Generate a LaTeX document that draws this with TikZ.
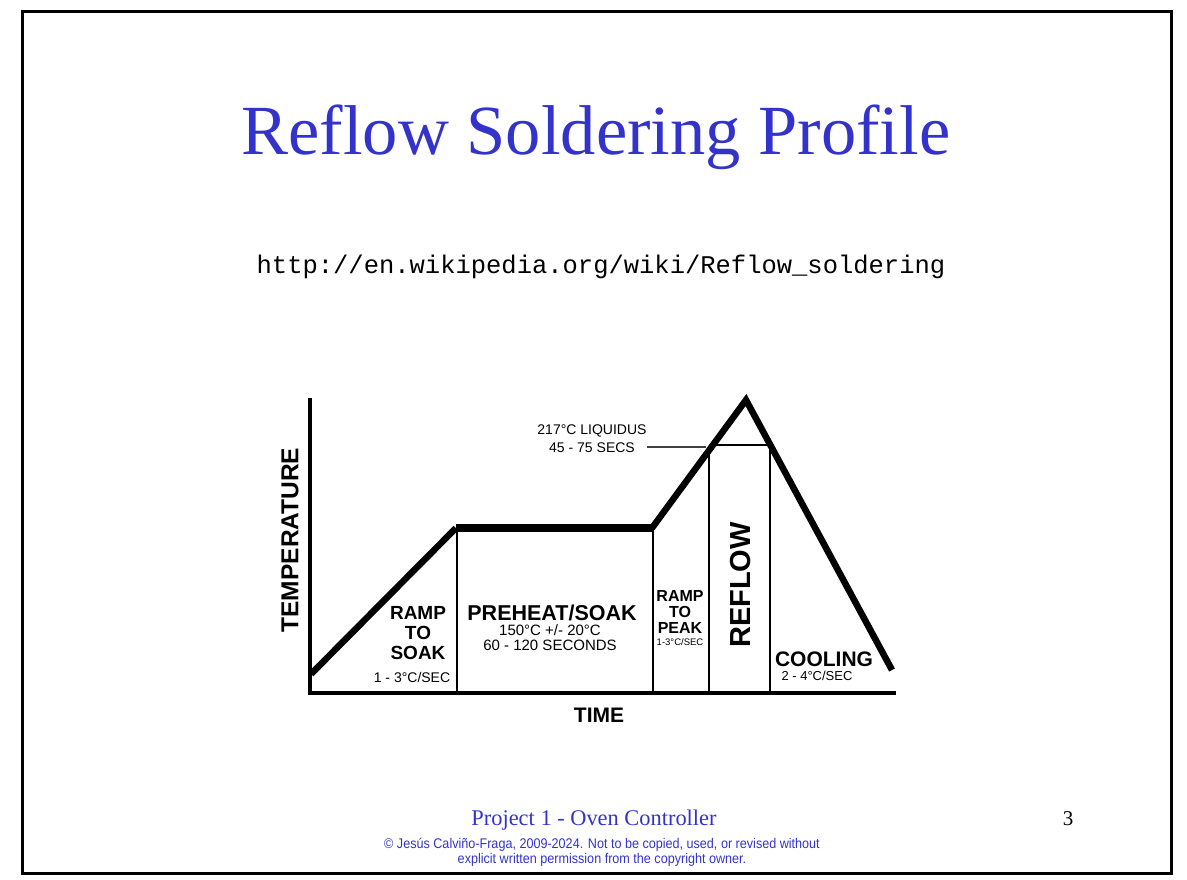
\documentclass[tikz,border=0pt]{standalone}
\usepackage{fontspec}
\setmainfont{Liberation Serif}
\newfontfamily\arial{Liberation Sans}
\newfontfamily\arialnarrow[FakeStretch=0.9]{Liberation Sans}
\newfontfamily\cour{Liberation Mono}
\definecolor{slideblue}{RGB}{51,51,204}
\newcommand{\fsz}[1]{\fontsize{#1}{#1}\selectfont}
\begin{document}
\begin{tikzpicture}[x=1pt,y=-1pt,
  txt/.style={inner sep=0pt, align=center},
  bigbold/.style={txt, font=\arial\bfseries\fsz{#1}},
  small/.style={txt, font=\arial\fsz{#1}},
  axisline/.style={line width=4pt, line cap=rect},
  curve/.style={line width=6.5pt, line join=miter},
  divider/.style={line width=2.5pt},
]
\useasboundingbox (0,0) rectangle (1187,880);
% slide frame
\draw[line width=3pt] (22,12) rectangle (1171,873);

% headings
\node[txt, anchor=base, text=slideblue, font=\fsz{70.5}] (title) at (596,155) {Reflow Soldering Profile};
\node[txt, anchor=base, font=\cour\fsz{25.5}] (url) at (601,273) {http://en.wikipedia.org/wiki/Reflow\_soldering};

% profile key points
\coordinate (origin) at (310,693);
\coordinate (ytop) at (310,400);
\coordinate (xend) at (894,693);
\coordinate (start) at (311,674);
\coordinate (soakA) at (456,528);
\coordinate (soakB) at (652,528);
\coordinate (peak) at (746,400);
\coordinate (cool) at (892,670);
\coordinate (liqL) at (713,445);
\coordinate (liqR) at (770,445);
\coordinate (rampTop) at (709,450);
\coordinate (leadL) at (647,447);
\coordinate (leadR) at (706,447);

% zone dividers
\draw[divider] (457,528) -- (457,693);
\draw[divider] (653,528) -- (653,693);
\draw[divider] (rampTop) -- (709,693);
\draw[divider] (liqR) -- (770,693);
\draw[divider] (liqL) -- (liqR);
\draw[line width=1.8pt, black!75] (leadL) -- (leadR);

% axes
\draw[axisline] (ytop) -- (origin) -- (xend);

% temperature curve
\draw[curve] (start) -- (soakA);
\draw[line width=7.5pt] (soakA) -- (soakB);
\draw[curve] (soakB) -- (peak) -- (cool);

% axis labels
\node[bigbold=24.5, rotate=90] (templbl) at (290,540) {TEMPERATURE};
\node[bigbold=21] (timelbl) at (599,715) {TIME};

% zone labels
\node[bigbold=19, font=\arial\bfseries\fontsize{19}{20}\selectfont] (rts) at (418,633) {RAMP\\TO\\SOAK};
\node[small=14] (rtsrate) at (412,677) {1 - 3°C/SEC};

\node[bigbold=21.5] (soak) at (552,613) {PREHEAT/SOAK};
\node[small=15, font=\arial\fontsize{15}{15}\selectfont] (soakinfo) at (550,638) {150°C +/- 20°C\\60 - 120 SECONDS};

\node[bigbold=16, font=\arial\bfseries\fontsize{16}{16}\selectfont] (rtp) at (680,612) {RAMP\\TO\\PEAK};
\node[small=9.5] (rtprate) at (680,642) {1-3°C/SEC};

\node[bigbold=29, rotate=90] (reflow) at (741,585) {REFLOW};

\node[bigbold=21] (cooling) at (824,659) {COOLING};
\node[small=13] (coolrate) at (817,676) {2 - 4°C/SEC};

\node[small=14, font=\arial\fontsize{14}{18}\selectfont] (liquidus) at (592,439) {217°C LIQUIDUS\\45 - 75 SECS};

% footer
\node[txt, anchor=base, text=slideblue, font=\fsz{22.4}] (footer) at (594,825) {Project 1 - Oven Controller};
\node[txt, anchor=base, font=\fsz{21}] (pagenum) at (1068,825) {3};
\node[txt, text=slideblue, font=\arialnarrow\fontsize{14}{15}\selectfont] (copyright) at (602,852) {© Jesús Calviño-Fraga, 2009-2024. Not to be copied, used, or revised without\\explicit written permission from the copyright owner.};
\end{tikzpicture}
\end{document}
